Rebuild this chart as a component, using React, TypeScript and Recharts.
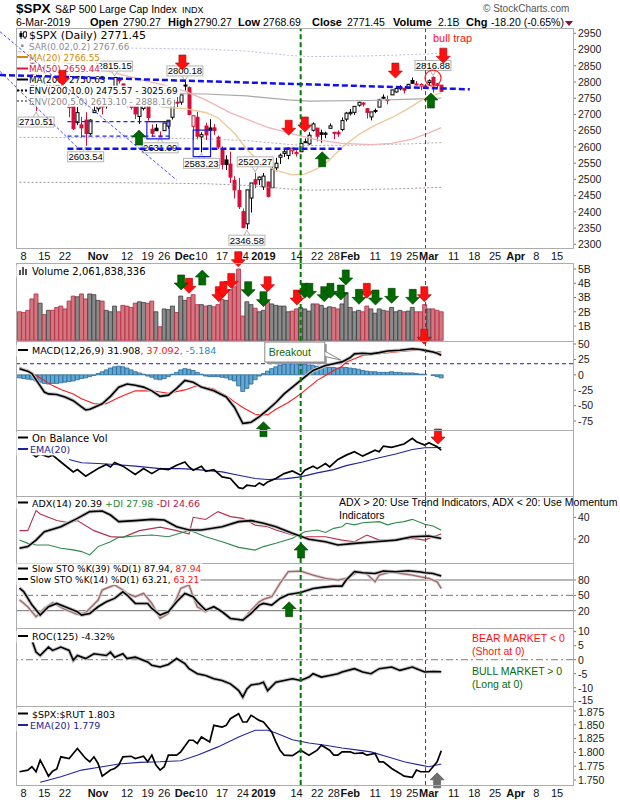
import React from "react";
import { ComposedChart, Bar, Line, XAxis, YAxis, ReferenceLine, ReferenceDot, ReferenceArea, Cell } from "recharts";

// ---------- categories ----------
const DATES = [
  "Oct 5","Oct 8","Oct 9","Oct 10","Oct 11","Oct 12","Oct 15","Oct 16","Oct 17","Oct 18","Oct 19","Oct 22","Oct 23","Oct 24","Oct 25","Oct 26","Oct 29","Oct 30","Oct 31",
  "Nov 1","Nov 2","Nov 5","Nov 6","Nov 7","Nov 8","Nov 9","Nov 12","Nov 13","Nov 14","Nov 15","Nov 16","Nov 19","Nov 20","Nov 21","Nov 23","Nov 26","Nov 27","Nov 28","Nov 29","Nov 30",
  "Dec 3","Dec 4","Dec 6","Dec 7","Dec 10","Dec 11","Dec 12","Dec 13","Dec 14","Dec 17","Dec 18","Dec 19","Dec 20","Dec 21","Dec 24","Dec 26","Dec 27","Dec 28","Dec 31",
  "Jan 2","Jan 3","Jan 4","Jan 7","Jan 8","Jan 9","Jan 10","Jan 11","Jan 14","Jan 15","Jan 16","Jan 17","Jan 18","Jan 22","Jan 23","Jan 24","Jan 25","Jan 28","Jan 29","Jan 30","Jan 31",
  "Feb 1","Feb 4","Feb 5","Feb 6","Feb 7","Feb 8","Feb 11","Feb 12","Feb 13","Feb 14","Feb 15","Feb 19","Feb 20","Feb 21","Feb 22","Feb 25","Feb 26","Feb 27","Feb 28",
  "Mar 1","Mar 4","Mar 5","Mar 6",
];
const PRIOR_CLOSE = 2901.6;

// ---------- price ----------
const OPEN = [
  2902.5,2877.5,2882.5,2873.9,2776.9,2770.5,2763.8,2767.1,2811.7,2802.0,2775.7,2773.9,2721.0,2737.9,2674.9,2667.9,2682.7,2640.7,2705.6,
  2717.6,2745.5,2726.4,2738.4,2774.1,2806.4,2794.1,2773.9,2730.1,2737.9,2693.5,2718.5,2730.7,2654.6,2657.7,2633.4,2650.0,2663.8,2691.5,2737.0,2737.8,
  2790.5,2782.4,2663.5,2691.3,2630.9,2664.4,2658.2,2658.7,2629.7,2590.8,2559.9,2547.1,2496.8,2465.4,2400.6,2363.1,2442.5,2498.8,2498.9,
  2477.0,2491.9,2474.3,2535.6,2568.1,2580.0,2573.5,2588.1,2580.3,2585.1,2614.8,2609.3,2651.3,2657.9,2643.5,2638.8,2657.4,2645.0,2644.9,2653.6,2685.5,
  2702.3,2706.5,2728.3,2735.1,2717.5,2692.4,2712.4,2722.6,2750.3,2743.5,2760.2,2769.3,2779.1,2780.7,2780.7,2804.4,2792.4,2787.5,2788.1,
  2798.2,2814.4,2794.4,2790.3,
];
const HIGH = [
  2909.6,2894.0,2894.8,2874.0,2795.1,2775.8,2776.0,2813.5,2816.9,2806.0,2797.8,2778.9,2753.6,2742.6,2722.7,2692.4,2706.9,2685.4,2736.7,
  2741.7,2756.6,2744.3,2756.8,2815.2,2814.8,2794.1,2776.0,2754.6,2746.8,2735.4,2746.8,2739.0,2669.4,2670.7,2647.6,2674.4,2682.5,2744.0,2753.8,2760.9,
  2800.2,2785.9,2696.1,2708.5,2645.1,2674.4,2685.4,2670.2,2635.0,2601.1,2574.0,2585.3,2509.6,2504.4,2410.3,2467.8,2489.1,2520.3,2509.2,
  2519.5,2493.1,2538.1,2566.2,2579.8,2595.3,2597.8,2596.3,2589.3,2613.1,2625.8,2645.1,2675.5,2657.9,2653.2,2647.2,2672.4,2645.0,2650.9,2690.4,2708.0,
  2716.7,2725.0,2739.0,2738.1,2719.3,2708.1,2718.1,2748.2,2761.9,2757.9,2775.7,2787.3,2789.9,2781.5,2794.2,2813.5,2803.1,2795.8,2793.7,
  2808.0,2816.9,2796.4,2790.3,
];
const LOW = [
  2869.3,2874.3,2874.3,2784.9,2710.5,2729.4,2749.0,2766.9,2781.8,2755.2,2760.3,2749.2,2691.4,2651.9,2667.8,2628.2,2603.5,2635.3,2705.6,
  2708.9,2700.4,2717.9,2737.1,2774.1,2795.0,2764.2,2722.0,2715.0,2685.8,2670.8,2712.2,2681.1,2631.5,2649.8,2631.1,2650.0,2655.9,2684.4,2722.9,2730.0,
  2773.4,2697.2,2621.5,2623.1,2583.2,2621.3,2650.3,2637.3,2593.5,2530.5,2528.7,2489.0,2441.2,2408.6,2351.1,2346.6,2397.9,2472.9,2482.8,
  2467.5,2444.0,2474.3,2524.6,2547.6,2568.9,2562.0,2577.4,2570.4,2585.1,2612.7,2606.4,2647.6,2617.3,2612.9,2627.0,2657.3,2624.1,2631.1,2648.3,2678.7,
  2696.9,2698.8,2724.0,2724.2,2687.3,2681.8,2703.9,2722.6,2748.6,2731.2,2760.2,2767.3,2774.1,2764.6,2779.1,2795.0,2789.5,2775.1,2782.5,
  2787.4,2767.7,2782.0,2768.7,
];
const CLOSE = [
  2885.6,2884.4,2880.3,2785.7,2728.4,2767.1,2750.8,2809.9,2809.2,2768.8,2767.8,2755.9,2740.7,2656.1,2705.6,2658.7,2641.3,2682.6,2711.7,
  2740.4,2723.1,2738.3,2755.5,2813.9,2806.8,2781.0,2726.2,2722.2,2701.6,2730.2,2736.3,2690.7,2641.9,2649.9,2632.6,2673.5,2682.2,2743.8,2737.8,2760.2,
  2790.4,2700.1,2695.9,2633.1,2637.7,2636.8,2651.1,2650.5,2600.0,2545.9,2546.2,2507.0,2467.4,2416.6,2351.1,2467.7,2488.8,2485.7,2506.9,
  2510.0,2447.9,2531.9,2549.7,2574.4,2585.0,2596.6,2596.3,2582.6,2610.3,2616.1,2636.0,2670.7,2632.9,2638.7,2642.3,2664.8,2643.9,2640.0,2681.1,2704.1,
  2706.5,2724.9,2737.7,2731.6,2706.1,2707.9,2709.8,2744.7,2753.0,2745.7,2775.6,2779.8,2784.7,2774.9,2792.7,2796.1,2793.9,2792.4,2784.5,
  2803.7,2792.8,2789.7,2771.5,
];
// volume in billions
const VOLUME = [
  2.0,1.95,2.1,2.9,3.25,2.6,1.8,2.1,2.1,2.3,2.4,2.2,2.75,3.1,3.05,3.25,2.9,3.25,3.2,
  2.8,2.75,2.1,2.0,2.4,2.0,2.45,2.4,2.3,2.6,2.7,2.65,2.6,2.75,2.0,0.95,2.2,2.15,2.4,1.95,3.1,
  2.8,3.0,3.2,2.5,2.5,2.4,2.45,2.35,2.5,2.85,2.8,3.55,3.75,5.0,1.7,2.7,2.5,2.25,2.0,
  2.1,2.7,2.55,2.45,2.4,2.4,2.0,2.05,2.2,2.3,2.2,2.05,2.55,2.55,2.45,2.25,2.35,2.3,2.2,2.55,3.35,
  2.3,2.0,2.1,2.0,2.4,2.2,1.9,2.2,2.1,2.05,2.3,2.0,2.1,2.0,2.05,2.3,2.0,2.0,2.5,
  2.2,2.2,2.1,2.0,
];
const MACD_HIST = [
  -5,-6,-7,-8,-10,-12,-14,-15,-14,-14,-13,-12,-11,-10,-8,-6,-5,-3,-1,
  2,5,8,11,13,14,13,11,8,5,3,1,-2,-4,-7,-8,-6,-3,1,4,8,
  10,9,7,4,1,-2,-3,-3,-3,-4,-5,-8,-10,-18,-27,-22,-15,-8,-2,
  2,6,10,13,16,18,19,20,19,18,17,16,15,14,13,12,12,12,11,12,12,
  11,10,9,7,6,5,5,4,4,4,5,4,4,3,3,3,2,1,1,
  0,-1,-3,-5,
];

// ---------- overlays read as [dayIndex, value] ----------
const MA20 = [[0,2905],[5,2885],[10,2845],[15,2790],[20,2755],[25,2742],[30,2735],[35,2722],[40,2718],[45,2706],[48,2690],[52,2642],[55,2592],[58,2556],[62,2528],[66,2514],[69,2516],[72,2533],[75,2560],[78,2598],[82,2638],[86,2667],[90,2690],[94,2718],[98,2750],[102,2766.5]];
const MA50 = [[0,2882],[10,2862],[20,2838],[30,2805],[35,2790],[40,2772],[45,2745],[51,2705],[56,2680],[60,2660],[67,2637],[72,2622],[78,2611],[85,2607],[90,2611],[95,2624],[99,2643],[102,2659.4]];
const MA200 = [[0,2768],[27,2766],[45,2763],[55,2757],[65,2745],[70,2741],[84,2743],[95,2747],[102,2750.6]];
const ENV5_UP = [[0,2906.4],[27,2904.3],[45,2901.2],[55,2894.9],[65,2882.3],[70,2878.1],[84,2880.2],[95,2884.4],[102,2888.2]];
const ENV5_LO = [[0,2629.6],[27,2627.7],[45,2624.9],[55,2619.2],[65,2607.8],[70,2604.0],[84,2605.9],[95,2609.7],[102,2613.1]];
const ENV10_LO = [[0,2491.2],[27,2489.4],[45,2486.7],[55,2481.3],[65,2470.5],[70,2466.9],[84,2468.7],[95,2472.3],[102,2475.6]];

const MACD_LINE = [[0,9.7],[2,6],[3,2],[4,-8],[5,-18],[6,-28],[7,-31],[9,-32],[11,-36],[13,-42],[15,-52],[16,-57],[17,-56],[18,-53],[20,-47],[22,-35],[24,-20],[26,-15],[28,-17],[30,-20],[32,-26],[34,-35],[36,-33],[38,-22],[40,-9],[42,-12],[44,-20],[47,-26],[50,-36],[52,-53],[53,-66],[54,-79],[55,-78],[56,-77],[58,-68],[60,-57],[62,-45],[64,-31],[66,-20],[68,-9],[70,2],[71,7],[74,15],[76,18],[78,21],[80,28],[81,34],[83,35],[85,34],[87,36],[89,38.6],[92,40],[95,42.4],[97,41],[98,39.7],[100,37],[101,35],[102,31.9]];
const MACD_SIGNAL = [[0,12.5],[2,6],[4,-1],[6,-9],[8,-17.5],[10,-24],[13,-31],[15,-39],[18,-47],[21,-47],[23,-40],[25,-34],[28,-26],[32,-26],[36,-30],[40,-24.5],[43,-17.5],[47,-23],[50,-34],[52,-44],[54,-53],[57,-64],[60,-65],[62,-56],[65,-45],[68,-31],[70,-20],[72,-9],[74,-1],[76,7],[78,14],[79,20.6],[81,26],[83,31.5],[87,34.2],[91,37],[95,39.7],[98,39.7],[100,38],[102,37]];

// OBV has no scale on the chart: values are relative (0 = panel floor, 100 = panel top)
const OBV = [[3,63.5],[4,59.4],[5,63.5],[7,59.4],[8,61.9],[10,51.5],[13,36.5],[14,40],[16,30],[19,41.5],[21,47.7],[22,44],[23,50.8],[25,45.2],[28,32.5],[30,41.5],[32,33.9],[34,41.5],[36,40],[38,46.6],[40,51.5],[41,44],[42,39],[44,45],[45,37.5],[47,40],[49,29],[51,26.5],[53,12.7],[54,11.2],[55,16.3],[57,14.8],[58,19.8],[59,16.3],[60,21.4],[62,26.5],[64,33.9],[66,38],[68,31.5],[69,39],[71,45.2],[72,41.5],[74,49.2],[75,44],[77,55.4],[79,61.9],[81,67],[83,60.4],[86,69.5],[87,67],[88,75.6],[90,73.6],[93,78.7],[95,87.3],[96,82.2],[98,77.1],[99,80.7],[101,74.6],[102,69.5]];
const OBV_EMA = [[12,55.4],[15,50.3],[19,49.2],[23,47.7],[28,45.2],[34,41.5],[39,41.5],[43,40],[49,36.5],[53,31.5],[57,26.5],[60,25],[64,26],[68,29],[72,35],[76,40],[79,46],[83,51.5],[87,58],[91,63.5],[95,70.5],[98,73],[102,73.5]];

const ADX = [[0,11.4],[2,13],[4,19],[6,26.7],[10,31.3],[14,39],[17,45.2],[20,45.8],[22,42.1],[24,36],[28,36.9],[32,38.1],[35,37.5],[38,31.3],[41,28.3],[44,28.3],[49,31.3],[53,36],[56,36.9],[59,34.5],[62,31.3],[66,25.2],[70,19.7],[74,17.5],[77,14.5],[81,16],[86,17.5],[91,19],[95,22.1],[99,22.8],[102,20.4]];
const PLUS_DI = [[0,19],[2,16],[4,14.5],[7,14.5],[10,11.5],[13,10],[15,8.4],[17,5.3],[19,13],[22,17.5],[24,21.5],[28,22.8],[32,23.7],[36,22.1],[40,26.7],[41,28.3],[45,22.1],[49,17.5],[53,12.3],[57,9.8],[59,13],[62,16],[66,20.6],[69,26.7],[72,28.3],[74,26],[76,29.8],[78,31.3],[79,34.5],[81,33],[83,35],[87,36],[89,33],[91,35],[93,36],[95,38.1],[98,33.5],[100,31.9],[102,28]];
const MINUS_DI = [[0,27.7],[2,27.7],[4,46.1],[5,43],[9,37],[12,35],[14,37],[18,27.7],[22,22.2],[25,21.5],[29,27.7],[34,30.9],[38,27.7],[41,24.6],[42,40],[45,38],[48,45.2],[51,40.6],[54,39],[57,32.8],[60,31.3],[62,28.3],[66,23.7],[69,22.1],[74,22.1],[78,19],[81,17.5],[84,23.7],[87,19],[91,19],[95,20.6],[98,19],[100,22.1],[102,24.7]];

const STO39 = [[0,64],[1,57.5],[3,31.4],[5,11.4],[7,27.7],[9,34.2],[11,27.7],[14,17.9],[15,11.4],[17,14.6],[19,27.7],[21,37.5],[23,44],[25,57],[26,50.6],[28,34.2],[31,34.2],[32,24.4],[34,11.4],[36,17.9],[38,37.5],[40,53.8],[42,47.3],[43,37.5],[45,21.1],[47,27.7],[49,17.9],[51,4.9],[53,2.9],[54,1.6],[56,14.6],[58,30.9],[59,34.2],[61,30.9],[63,44],[65,51.7],[68,55.6],[71,63.4],[73,65.5],[76,68.1],[78,68.1],[79,79.9],[81,96.2],[83,94.1],[86,92.8],[88,97.4],[91,96.2],[94,98.1],[97,95.5],[98,94.1],[100,92.8],[102,87.9]];
const STO14 = [[0,41.2],[2,27.7],[4,8.1],[6,24.4],[8,35.5],[11,22.5],[14,12.7],[16,16],[19,40.8],[20,60.4],[22,66.9],[23,70.2],[25,60.4],[26,53.8],[28,47.3],[30,53.8],[32,34.2],[34,4.9],[36,14.6],[38,44],[39,63.6],[41,70.2],[42,47.3],[43,27.7],[45,17.9],[47,27.7],[49,17.9],[51,4.9],[53,1.6],[54,1.6],[56,21.1],[58,37.5],[59,42.1],[61,47.3],[63,73.4],[65,96.2],[68,97.5],[71,89.5],[74,83],[77,79.9],[79,83],[82,96.2],[84,91.5],[86,76.5],[87,89.5],[90,96.2],[92,92.8],[95,89.5],[97,86.3],[99,83],[101,76.5],[102,63.2]];

const ROC = [[3,6.9],[4,2.7],[5,1.5],[7,4.5],[8,3.3],[10,4.5],[12,3.3],[13,-0.2],[14,1.5],[16,0.4],[18,2.1],[21,1.5],[22,2.7],[23,0.9],[25,2.1],[26,0.4],[28,0.9],[31,-0.8],[32,-2],[34,-2.6],[36,-1.7],[38,0.4],[40,-1.4],[41,-3.2],[43,-5],[45,-5.6],[47,-6.8],[49,-7.4],[51,-8.6],[52,-9.8],[53,-11],[54,-13.3],[55,-10.4],[56,-9],[58,-8.6],[59,-8],[60,-11],[62,-8],[64,-7.4],[66,-6.8],[68,-7.4],[70,-6.2],[71,-5],[73,-6.2],[75,-5.6],[77,-5],[78,-4.4],[81,-3.2],[83,-4.4],[85,-5],[87,-3.2],[90,-2.6],[92,-3.8],[95,-2.6],[96,-3.2],[98,-4.4],[100,-4.2],[102,-4.3]];

const RATIO = [[0,1.765],[2,1.768],[3,1.774],[4,1.765],[5,1.786],[6,1.772],[7,1.757],[8,1.766],[9,1.770],[10,1.792],[12,1.789],[13,1.798],[14,1.807],[15,1.798],[16,1.789],[17,1.783],[18,1.792],[19,1.780],[20,1.757],[22,1.768],[23,1.771],[24,1.777],[25,1.792],[27,1.793],[28,1.789],[30,1.793],[31,1.783],[32,1.795],[33,1.777],[34,1.768],[35,1.774],[36,1.795],[38,1.795],[39,1.801],[41,1.822],[42,1.822],[43,1.816],[44,1.828],[46,1.819],[47,1.849],[49,1.846],[50,1.849],[51,1.861],[53,1.870],[54,1.855],[55,1.855],[56,1.867],[58,1.858],[59,1.855],[61,1.837],[62,1.819],[63,1.804],[64,1.795],[66,1.794],[68,1.804],[70,1.795],[72,1.804],[73,1.813],[75,1.804],[76,1.795],[77,1.795],[78,1.801],[80,1.801],[81,1.798],[83,1.799],[84,1.795],[86,1.798],[87,1.783],[88,1.783],[90,1.771],[92,1.762],[93,1.757],[95,1.755],[96,1.768],[97,1.765],[99,1.765],[100,1.774],[101,1.783],[102,1.803]];
const RATIO_EMA = [[5,1.746],[10,1.756],[15,1.768],[20,1.774],[24,1.779],[29,1.782],[34,1.783],[39,1.785],[43,1.795],[48,1.810],[53,1.828],[57,1.840],[60,1.840],[62,1.835],[66,1.823],[70,1.817],[74,1.813],[78,1.808],[81,1.805],[85,1.801],[89,1.792],[93,1.783],[97,1.777],[99,1.774],[102,1.779]];

// ---------- ticks ----------
const TICK_INDEX = [1,6,11,19,26,31,35,40,44,49,54,59,67,72,76,80,86,91,95,99,105,110,115,120,125,130];
const TICK_LABELS = ["8","15","22","Nov","12","19","26","Dec","10","17","24","2019","14","22","28","Feb","11","19","25","Mar","11","18","25","Apr","8","15"];
const BOLD_LABELS = ["Nov","Dec","2019","Feb","Mar","Apr"];
const PRICE_TICKS = [2300,2350,2400,2450,2500,2550,2600,2650,2700,2750,2800,2850,2900,2950];
const VOL_TICKS = [1,2,3,4,5];
const MACD_TICKS = [-75,-50,-25,0,25,50];
const ADX_TICKS = [20,40];
const STO_TICKS = [20,50,80];
const ROC_TICKS = [-15,-10,-5,0,5,10];
const RATIO_TICKS = [1.75,1.775,1.8,1.825,1.85,1.875];

// ---------- annotations (day index, value) ----------
const GREEN_X = 68;
const RED_X = 98.2;
const MAIN_RED_DOWN = [[10.4,2790],[39.4,2837],[65.1,2636],[69.0,2646],[90.9,2812],[102.5,2858]];
const MAIN_GREEN_UP = [[28.9,2652],[73.2,2585],[99.5,2766]];
const VOL_RED_DOWN = [[41,3.29],[48.2,2.71],[49.3,3.06],[51.2,3.64],[52.9,5.16],[60,3.41],[67.1,2.47],[84,2.94],[97.9,2.71],[97.9,-0.28]];
const VOL_GREEN_DOWN = [[39.1,3.53],[55.3,3.06],[59,2.36],[69,2.94],[70.1,2.94],[73.7,2.71],[75.2,2.94],[77.7,2.82],[78.9,3.88],[82.1,2.52],[86.1,2.47],[90,2.59],[95.1,2.52]];
const VOL_GREEN_UP = [[44.2,4.93]];
const PRICE_LABELS = [
  { i: 4, v: 2710.51, below: true },
  { i: 16, v: 2603.54, below: true },
  { i: 34, v: 2631.09, below: true },
  { i: 44, v: 2583.23, below: true },
  { i: 55, v: 2346.58, below: true },
  { i: 23, v: 2815.15, below: false },
  { i: 40, v: 2800.18, below: false },
  { i: 57, v: 2520.27, below: false },
  { i: 100, v: 2816.88, below: false },
];

// ---------- geometry ----------
const XDOM = [-0.85, 133.86];
const W = 620;
const MT = 16;
const MB = 10;
const A = "Liberation Sans, Arial, sans-serif";
const F = "DejaVu Sans, Verdana, sans-serif";
const RED = "#ff1010";
const GREEN = "#006a00";
const MAIN_DOM = [2288.6, 2966.3];

const pts = (arr) => arr.map(([i, v]) => ({ i, v }));

// rough DejaVu Sans advance widths, used to size legend backgrounds
const textW = (s, size) => {
  let w = 0;
  for (const ch of s) {
    if (/[0-9$]/.test(ch)) w += 0.636;
    else if (/[.,: ]/.test(ch)) w += 0.318;
    else if (/[()]/.test(ch)) w += 0.39;
    else if (ch === "-") w += 0.361;
    else if (ch === "%") w += 0.95;
    else if (ch === "+") w += 0.838;
    else if (/[MDNO]/.test(ch)) w += 0.78;
    else if (/[A-Z]/.test(ch)) w += 0.68;
    else if (/[il]/.test(ch)) w += 0.278;
    else w += 0.61;
  }
  return w * size;
};

const legendRow = (key, x, y, size, parts, family = F) => {
  const full = parts.map((p) => p[0]).join("");
  return (
    <g key={key}>
      <rect x={16.5} y={y - size * 0.95} width={x - 16 + textW(full, size) + 1} height={size * 1.2} fill="#ffffff" />
      <text x={x} y={y} fontFamily={family} fontSize={size}>
        {parts.map((p, k) => (
          <tspan key={k} fill={p[1]}>{p[0]}</tspan>
        ))}
      </text>
    </g>
  );
};

const Candle = (p) => {
  const { x, y, width, height, payload } = p;
  if (!payload || x == null || y == null || !isFinite(height)) return null;
  const { o, h, l, c, pc } = payload;
  const top = height >= 0 ? y : y + height;
  const span = Math.abs(height);
  const py = (v) => (h === l ? top : top + ((h - v) / (h - l)) * span);
  const cx = Math.round(x + width / 2) + 0.5;
  const color = c >= pc ? "#000000" : "#d3103a";
  const yo = py(o);
  const yc = py(c);
  const bt = Math.min(yo, yc);
  const bh = Math.max(1, Math.abs(yo - yc));
  return (
    <g>
      <line x1={cx} x2={cx} y1={top} y2={top + span} stroke={color} strokeWidth={1} />
      <rect x={cx - 1.5} y={bt} width={3} height={bh} fill={c > o ? "#ffffff" : color} stroke={color} strokeWidth={1} />
    </g>
  );
};

const arrowShape = (dir, fill, edge) => (p) => {
  const { cx, cy } = p;
  if (cx == null || cy == null) return null;
  const s = dir === "down" ? -1 : 1;
  const P = [[0, 0], [-7, 7], [-3.5, 7], [-3.5, 15], [3.5, 15], [3.5, 7], [7, 7]];
  const str = P.map(([dx, dy]) => `${cx + dx},${cy + s * dy}`).join(" ");
  return <polygon points={str} fill={fill} stroke={edge} strokeWidth={0.6} />;
};

const labelShape = (text, below) => (p) => {
  const { cx, cy } = p;
  if (cx == null || cy == null) return null;
  const w = 36, h = 10;
  const top = below ? cy + 6 : cy - 6 - h;
  const edge = below ? top : top + h;
  const tip = below ? cy + 1 : cy - 1;
  return (
    <g>
      <path d={`M${cx - 3},${edge} L${cx},${tip} L${cx + 3},${edge}`} fill="#fff" stroke="#b4b4b4" strokeWidth={1} />
      <rect x={cx - w / 2} y={top} width={w} height={h} fill="#ffffff" stroke="#b4b4b4" strokeWidth={1} />
      <text x={cx} y={top + h - 1.6} textAnchor="middle" fontSize={9.5} fontFamily={A} fill="#000">{text}</text>
    </g>
  );
};

const breakoutShape = (p) => {
  const { cx, cy } = p;
  if (cx == null || cy == null) return null;
  const bx = cx - 76, by = cy - 18;
  return (
    <g>
      <rect x={bx + 2} y={by + 2} width={60} height={20} fill="#9a9a9a" />
      <path d={`M${bx + 58},${by + 8} L${cx},${cy} L${bx + 58},${by + 14}`} fill="#fff" stroke="#888" strokeWidth={1} />
      <rect x={bx} y={by} width={60} height={20} fill="#ffffff" stroke="#888" strokeWidth={1} />
      <text x={bx + 4} y={by + 14} fontSize={10.5} fontFamily={A} fill="#0a6a0a">Breakout</text>
    </g>
  );
};

const DateTick = (p) => {
  const { x, y, payload } = p;
  const k = TICK_INDEX.indexOf(payload.value);
  const lab = k >= 0 ? TICK_LABELS[k] : "";
  const bold = BOLD_LABELS.includes(lab);
  return (
    <text x={x} y={y + 11.5} textAnchor="middle" fontSize={11} fontFamily={A} fontWeight={bold ? 700 : 400} fill="#111">{lab}</text>
  );
};

const ValTick = (fmt, nudge) => (p) => {
  const { x, y, payload } = p;
  const v = payload.value;
  const dy = nudge && nudge[0] === v ? nudge[1] : 0;
  return (
    <text x={x} y={y + 3.8 + dy} textAnchor="start" fontSize={10.5} fontFamily={A} fill="#1a1a1a">{fmt ? fmt(v) : String(v)}</text>
  );
};

const yAxis = (domain, ticks, fmt, show = true, nudge = null) => (
  <YAxis
    orientation="right"
    type="number"
    domain={domain}
    ticks={ticks}
    allowDataOverflow
    interval={0}
    width={47}
    axisLine={false}
    tickLine={show && ticks.length ? { stroke: "#777" } : false}
    tickSize={3}
    tickMargin={2}
    tick={show && ticks.length ? ValTick(fmt, nudge) : false}
  />
);

const xAxis = (show, labels = true) => (
  <XAxis
    type="number"
    dataKey="i"
    domain={XDOM}
    allowDataOverflow
    ticks={TICK_INDEX}
    interval={0}
    hide={!show}
    height={show ? 15 : 0}
    axisLine={false}
    tickLine={false}
    tickSize={0}
    tickMargin={0}
    tick={show && labels ? (p) => <DateTick {...p} /> : false}
  />
);

const vlines = (ext) => [
  ext ? (
    <ReferenceLine key="vg" segment={[{ x: GREEN_X, y: ext[0] }, { x: GREEN_X, y: ext[1] }]} stroke="#007a00" strokeWidth={2} strokeDasharray="5 3" ifOverflow="visible" />
  ) : (
    <ReferenceLine key="vg" x={GREEN_X} stroke="#007a00" strokeWidth={2} strokeDasharray="5 3" />
  ),
  ext ? (
    <ReferenceLine key="vr" segment={[{ x: RED_X, y: ext[0] }, { x: RED_X, y: ext[1] }]} stroke="#e00000" strokeWidth={1} strokeDasharray="4 3" ifOverflow="visible" />
  ) : (
    <ReferenceLine key="vr" x={RED_X} stroke="#e00000" strokeWidth={1} strokeDasharray="4 3" />
  ),
];

const line = (key, data, color, width, extra = {}) => (
  <Line key={key} data={pts(data)} dataKey="v" type="linear" stroke={color} strokeWidth={width} dot={false} activeDot={false} isAnimationActive={false} {...extra} />
);

const PANELS = {
  main: { top: 28, h: 220 },
  vol: { top: 263, h: 78 },
  macd: { top: 341, h: 89 },
  obv: { top: 430, h: 66 },
  adx: { top: 496, h: 67 },
  sto: { top: 563, h: 65 },
  roc: { top: 628, h: 78 },
  ratio: { top: 706, h: 79 },
};

const Wrap = ({ panel, bottom, axisH = 0, children }) => (
  <div style={{ position: "absolute", left: 0, top: panel.top - MT }}>{children(MT + panel.h + bottom + axisH)}</div>
);

export default function App() {
  const rows = DATES.map((d, i) => ({
    i,
    d,
    o: OPEN[i],
    h: HIGH[i],
    l: LOW[i],
    c: CLOSE[i],
    pc: i === 0 ? PRIOR_CLOSE : CLOSE[i - 1],
    hl: [LOW[i], HIGH[i]],
    vol: VOLUME[i],
    hist: MACD_HIST[i],
  }));

  return (
    <div style={{ position: "absolute", left: 0, top: 0, width: 620, height: 800, background: "#ffffff", overflow: "hidden" }}>
      {/* MAIN PRICE: data layer */}
      <Wrap panel={PANELS.main} bottom={0} axisH={15}>
        {(h) => (
          <ComposedChart width={W} height={h} data={rows} margin={{ top: MT, right: 0, bottom: 0, left: 16 }}>
            {xAxis(true)}
            {yAxis(MAIN_DOM, PRICE_TICKS)}
            {line("env10", ENV10_LO, "#9a9a9a", 1, { strokeDasharray: "2 2" })}
            {line("env5l", ENV5_LO, "#b0b0b0", 1, { strokeDasharray: "2 2" })}
            {line("env5u", ENV5_UP, "#bcbcdc", 1, { strokeDasharray: "2 2" })}
            {line("ma200", MA200, "#a8a8a8", 1.2)}
            {line("ma50", MA50, "#f2b4b4", 1.3)}
            {line("ma20", MA20, "#ecc994", 1.3)}
            <Bar dataKey="hl" barSize={4} isAnimationActive={false} shape={(p) => <Candle {...p} />} />
            {PRICE_LABELS.map((L, k) => (
              <ReferenceDot key={"pl" + k} x={L.i} y={L.v} r={0} ifOverflow="visible" shape={labelShape(L.v.toFixed(2), L.below)} />
            ))}
          </ComposedChart>
        )}
      </Wrap>

      {/* main legend (hides the price data beneath each line) */}
      <svg width={620} height={120} style={{ position: "absolute", left: 0, top: 0, pointerEvents: "none" }}>
        {legendRow("l0", 29, 39, 11, [["$SPX (Daily) 2771.45", "#000"]])}
        {legendRow("l1", 29, 49.5, 8.8, [["SAR(0.02,0.2) 2767.66", "#8c8c9c"]])}
        {legendRow("l2", 29, 60.5, 8.8, [["MA(20) 2766.55", "#d48a0c"]])}
        {legendRow("l3", 29, 72, 8.8, [["MA(50) 2659.44", "#e0143c"]])}
        {legendRow("l4", 29, 83, 8.8, [["MA(200) 2750.63", "#000"]])}
        {legendRow("l5", 29, 94, 8.8, [["ENV(200,10.0) 2475.57 - 3025.69", "#000"]])}
        {legendRow("l6", 29, 104.5, 8.8, [["ENV(200,5.0) 2613.10 - 2888.16", "#8a8a8a"]])}
        <line x1={21} x2={21} y1={31} y2={39} stroke="#000" />
        <rect x={19.5} y={33} width={3} height={4} fill="#000" />
        <line x1={25} x2={25} y1={31} y2={39} stroke="#000" />
        <rect x={23.5} y={32} width={3} height={5} fill="#fff" stroke="#000" strokeWidth={0.8} />
        <rect x={21} y={44.5} width={2.5} height={2.5} fill="#8c8c9c" />
        <line x1={17} x2={28} y1={57} y2={57} stroke="#d48a0c" strokeWidth={2} />
        <line x1={17} x2={28} y1={68.5} y2={68.5} stroke="#e0143c" strokeWidth={2} />
        <line x1={17} x2={28} y1={79.5} y2={79.5} stroke="#000" strokeWidth={2} />
        <line x1={17} x2={28} y1={90.5} y2={90.5} stroke="#000" strokeWidth={2} strokeDasharray="2 2" />
        <line x1={17} x2={28} y1={101} y2={101} stroke="#8a8a8a" strokeWidth={2} strokeDasharray="2 2" />
      </svg>

      {/* MAIN PRICE: annotation layer */}
      <Wrap panel={PANELS.main} bottom={0} axisH={15}>
        {(h) => (
          <ComposedChart width={W} height={h} data={rows} margin={{ top: MT, right: 0, bottom: 0, left: 16 }}>
            {xAxis(true, false)}
            {yAxis(MAIN_DOM, PRICE_TICKS, null, false)}
            <ReferenceLine segment={[{ x: 11.6, y: 2678 }, { x: 36.6, y: 2678 }]} stroke="#2222e0" strokeWidth={1.2} strokeDasharray="4 3" ifOverflow="visible" />
            <ReferenceLine segment={[{ x: 11.6, y: 2633 }, { x: 36.6, y: 2633 }]} stroke="#2222e0" strokeWidth={1.2} strokeDasharray="4 3" ifOverflow="visible" />
            <ReferenceLine segment={[{ x: -4.72, y: 2954.9 }, { x: 38, y: 2498 }]} stroke="#4848ff" strokeWidth={1} strokeDasharray="3 2" ifOverflow="visible" />
            <ReferenceLine segment={[{ x: -4.72, y: 2832.6 }, { x: 14.6, y: 2590.5 }]} stroke="#4848ff" strokeWidth={1} strokeDasharray="3 2" ifOverflow="visible" />
            <ReferenceArea x1={30.8} x2={36.2} y1={2625} y2={2678} fill="none" stroke="#1a1ae6" strokeWidth={1.2} ifOverflow="visible" />
            <ReferenceArea x1={42} x2={46.2} y1={2570} y2={2652} fill="none" stroke="#1a1ae6" strokeWidth={1.2} ifOverflow="visible" />
            <ReferenceLine segment={[{ x: 11.6, y: 2594 }, { x: 77.9, y: 2594 }]} stroke="#1010f0" strokeWidth={2.5} strokeDasharray="6 3" ifOverflow="visible" />
            <ReferenceLine segment={[{ x: -4.72, y: 2821.5 }, { x: 108.9, y: 2777.5 }]} stroke="#1010f0" strokeWidth={2.5} strokeDasharray="6 3" ifOverflow="visible" />
            {vlines([2242, 2966.3])}
            <ReferenceDot x={100} y={2812} r={8} fill="none" stroke="#ff2020" strokeWidth={1.2} ifOverflow="visible" />
            {MAIN_RED_DOWN.map(([i, v], k) => (
              <ReferenceDot key={"mr" + k} x={i} y={v} r={0} ifOverflow="visible" shape={arrowShape("down", RED, "#b00000")} />
            ))}
            {MAIN_GREEN_UP.map(([i, v], k) => (
              <ReferenceDot key={"mg" + k} x={i} y={v} r={0} ifOverflow="visible" shape={arrowShape("up", GREEN, "#004000")} />
            ))}
          </ComposedChart>
        )}
      </Wrap>

      {/* VOLUME */}
      <Wrap panel={PANELS.vol} bottom={MB}>
        {(h) => (
          <ComposedChart width={W} height={h} data={rows} margin={{ top: MT, right: 0, bottom: MB, left: 16 }}>
            {xAxis(false)}
            {yAxis([-0.05, 5.42], VOL_TICKS, (v) => `${v}B`)}
            <Bar dataKey="vol" barSize={4} isAnimationActive={false}>
              {rows.map((r, k) => (
                <Cell key={k} fill={r.c < r.pc ? "#d27680" : "#8a8a8a"} stroke={r.c < r.pc ? "#b42a40" : "#3c3c3c"} strokeWidth={0.8} />
              ))}
            </Bar>
            {vlines()}
            {VOL_RED_DOWN.map(([i, v], k) => (
              <ReferenceDot key={"vr" + k} x={i} y={v} r={0} ifOverflow="visible" shape={arrowShape("down", RED, "#b00000")} />
            ))}
            {VOL_GREEN_DOWN.map(([i, v], k) => (
              <ReferenceDot key={"vg" + k} x={i} y={v} r={0} ifOverflow="visible" shape={arrowShape("down", GREEN, "#004000")} />
            ))}
            {VOL_GREEN_UP.map(([i, v], k) => (
              <ReferenceDot key={"vu" + k} x={i} y={v} r={0} ifOverflow="visible" shape={arrowShape("up", GREEN, "#004000")} />
            ))}
          </ComposedChart>
        )}
      </Wrap>

      {/* MACD */}
      <Wrap panel={PANELS.macd} bottom={MB}>
        {(h) => (
          <ComposedChart width={W} height={h} data={rows} margin={{ top: MT, right: 0, bottom: MB, left: 16 }}>
            {xAxis(false)}
            {yAxis([-89.6, 54.9], MACD_TICKS)}
            <Bar dataKey="hist" barSize={4} fill="#62a8d4" stroke="#2a6a96" strokeWidth={0.8} isAnimationActive={false} />
            <ReferenceLine y={18} stroke="#1a1ac8" strokeWidth={1} strokeDasharray="4 3" />
            {line("sig", MACD_SIGNAL, "#ff1a1a", 1.1)}
            {line("macdh", MACD_LINE, "#c4c4c4", 3.6)}
            {line("macd", MACD_LINE, "#000000", 1.6)}
            {vlines()}
            <ReferenceDot x={77.7} y={24} r={0} ifOverflow="visible" shape={breakoutShape} />
            <ReferenceDot x={59} y={-76.1} r={0} ifOverflow="visible" shape={arrowShape("up", GREEN, "#004000")} />
          </ComposedChart>
        )}
      </Wrap>

      {/* OBV */}
      <Wrap panel={PANELS.obv} bottom={MB}>
        {(h) => (
          <ComposedChart width={W} height={h} data={rows} margin={{ top: MT, right: 0, bottom: MB, left: 16 }}>
            {xAxis(false)}
            {yAxis([0, 100], [])}
            {line("obvema", OBV_EMA, "#22229a", 1.1)}
            {line("obv", OBV, "#000000", 1.7)}
            {vlines()}
            <ReferenceDot x={101.2} y={78.8} r={0} ifOverflow="visible" shape={arrowShape("down", RED, "#b00000")} />
          </ComposedChart>
        )}
      </Wrap>

      {/* ADX */}
      <Wrap panel={PANELS.adx} bottom={MB}>
        {(h) => (
          <ComposedChart width={W} height={h} data={rows} margin={{ top: MT, right: 0, bottom: MB, left: 16 }}>
            {xAxis(false)}
            {yAxis([-2.1, 59.6], ADX_TICKS)}
            {line("mdi", MINUS_DI, "#b4304e", 1.1)}
            {line("pdi", PLUS_DI, "#2e8a4a", 1.1)}
            {line("adxh", ADX, "#c4c4c4", 3.6)}
            {line("adx", ADX, "#000000", 1.6)}
            {vlines()}
            <ReferenceDot x={68.1} y={16.3} r={0} ifOverflow="visible" shape={arrowShape("up", GREEN, "#004000")} />
          </ComposedChart>
        )}
      </Wrap>

      {/* SLOW STO */}
      <Wrap panel={PANELS.sto} bottom={MB}>
        {(h) => (
          <ComposedChart width={W} height={h} data={rows} margin={{ top: MT, right: 0, bottom: MB, left: 16 }}>
            {xAxis(false)}
            {yAxis([-13.8, 113.2], STO_TICKS)}
            <ReferenceLine y={80} stroke="#6e6e6e" strokeWidth={1} />
            <ReferenceLine y={50} stroke="#7a7a7a" strokeWidth={1} strokeDasharray="7 3 2 3" />
            <ReferenceLine y={20} stroke="#6e6e6e" strokeWidth={1} />
            {line("s14h", STO14, "#dcd0d0", 3)}
            {line("s14", STO14, "#a06a6a", 1.3)}
            {line("s39h", STO39, "#c4c4c4", 3.6)}
            {line("s39", STO39, "#000000", 1.6)}
            {vlines()}
            <ReferenceDot x={65.2} y={37.6} r={0} ifOverflow="visible" shape={arrowShape("up", GREEN, "#004000")} />
          </ComposedChart>
        )}
      </Wrap>

      {/* ROC */}
      <Wrap panel={PANELS.roc} bottom={MB}>
        {(h) => (
          <ComposedChart width={W} height={h} data={rows} margin={{ top: MT, right: 0, bottom: MB, left: 16 }}>
            {xAxis(false)}
            {yAxis([-16.5, 11.3], ROC_TICKS, null, true, [-15, -1.5])}
            <ReferenceLine y={0} stroke="#7a7a7a" strokeWidth={1} strokeDasharray="7 3 2 3" />
            {line("roch", ROC, "#c4c4c4", 3.6)}
            {line("roc", ROC, "#000000", 1.6)}
            {vlines()}
          </ComposedChart>
        )}
      </Wrap>

      {/* SPX:RUT */}
      <Wrap panel={PANELS.ratio} bottom={0} axisH={15}>
        {(h) => (
          <ComposedChart width={W} height={h} data={rows} margin={{ top: MT, right: 0, bottom: 0, left: 16 }}>
            {xAxis(true)}
            {yAxis([1.741, 1.884], RATIO_TICKS, (v) => v.toFixed(3), true, [1.875, 1.5])}
            {line("rema", RATIO_EMA, "#2424a4", 1.1)}
            {line("ratio", RATIO, "#000000", 1.7)}
            {vlines()}
            <ReferenceDot x={101} y={1.763} r={0} ifOverflow="visible" shape={arrowShape("up", "#6e6e6e", "#505050")} />
          </ComposedChart>
        )}
      </Wrap>

      {/* panel frames */}
      {Object.keys(PANELS).map((k) => (
        <div key={k} style={{ position: "absolute", left: 16, top: PANELS[k].top, width: 558, height: PANELS[k].h + 1, border: "1px solid #acacac", boxSizing: "border-box", pointerEvents: "none" }} />
      ))}

      {/* text overlay */}
      <svg width={620} height={800} style={{ position: "absolute", left: 0, top: 0, pointerEvents: "none" }}>
        <text x={16} y={13} fontFamily={A} fontSize={13.5} fontWeight={700} fill="#000">$SPX</text>
        <text x={55} y={12.5} fontFamily={A} fontSize={10.5} fill="#000">S&amp;P 500 Large Cap Index</text>
        <text x={182} y={12.5} fontFamily={A} fontSize={9} fill="#000">INDX</text>
        <text x={483} y={12} fontFamily={A} fontSize={10} fill="#555">© StockCharts.com</text>
        <text y={26} fontFamily={A} fontSize={10.5} fill="#000">
          <tspan x={16}>6-Mar-2019</tspan>
          <tspan x={90} fontWeight={700} fontSize={11}>Open</tspan>
          <tspan x={123}>2790.27</tspan>
          <tspan x={168} fontWeight={700} fontSize={11}>High</tspan>
          <tspan x={194}>2790.27</tspan>
          <tspan x={238} fontWeight={700} fontSize={11}>Low</tspan>
          <tspan x={263}>2768.69</tspan>
          <tspan x={312} fontWeight={700} fontSize={11}>Close</tspan>
          <tspan x={347}>2771.45</tspan>
          <tspan x={393} fontWeight={700} fontSize={11}>Volume</tspan>
          <tspan x={438}>2.1B</tspan>
          <tspan x={466} fontWeight={700} fontSize={11}>Chg</tspan>
          <tspan x={491}>-18.20 (-0.65%)</tspan>
        </text>
        <path d="M565,21 L573,21 L569,26 Z" fill="#8a1030" />
        <text x={433} y={42} fontFamily={A} fontSize={11} fill="#ff1010">bull trap</text>

        {/* volume legend */}
        {legendRow("vl", 32, 275, 10, [["Volume 2,061,838,336", "#000"]])}
        <rect x={19} y={270} width={2} height={5} fill="#555" />
        <rect x={22} y={267} width={2} height={8} fill="#555" />
        <rect x={25} y={269} width={2} height={6} fill="#555" />

        {/* MACD legend */}
        {legendRow("ml", 32, 354, 9.5, [["MACD(12,26,9) 31.908", "#000"], [", 37.092", "#ff1010"], [", -5.184", "#2a8ac8"]])}
        <line x1={18} x2={28} y1={350} y2={350} stroke="#000" strokeWidth={2} />

        {/* OBV legend */}
        {legendRow("ol", 32, 441.5, 10, [["On Balance Vol", "#000"]])}
        <line x1={18} x2={28} y1={437.5} y2={437.5} stroke="#000" strokeWidth={2} />
        {legendRow("oe", 30, 453, 9.5, [["EMA(20)", "#22229a"]])}
        <line x1={18} x2={28} y1={449} y2={449} stroke="#22229a" strokeWidth={2} />

        {/* ADX legend */}
        {legendRow("al", 32, 506.5, 9.5, [["ADX(14) 20.39 ", "#000"], ["+DI 27.98 ", "#1e8a3a"], ["-DI 24.66", "#b02050"]])}
        <line x1={18} x2={28} y1={502.5} y2={502.5} stroke="#000" strokeWidth={2} />
        <text x={339} y={506} fontFamily={A} fontSize={10.5} fill="#000">ADX &gt; 20: Use Trend Indicators, ADX &lt; 20: Use Momentum</text>
        <text x={339} y={519} fontFamily={A} fontSize={10.5} fill="#000">Indicators</text>

        {/* STO legend */}
        {legendRow("s1", 32, 572, 9, [["Slow STO %K(39) %D(1) 87.94, ", "#000"], ["87.94", "#ff1010"]])}
        <line x1={18} x2={28} y1={568.5} y2={568.5} stroke="#000" strokeWidth={2} />
        {legendRow("s2", 30, 582.5, 9, [["Slow STO %K(14) %D(1) 63.21, ", "#000"], ["63.21", "#ff1010"]])}
        <line x1={18} x2={28} y1={579} y2={579} stroke="#000" strokeWidth={2} />

        {/* ROC legend & notes */}
        {legendRow("rl", 32, 640, 9.5, [["ROC(125) -4.32%", "#000"]])}
        <line x1={18} x2={28} y1={636} y2={636} stroke="#000" strokeWidth={2} />
        <text x={472} y={642} fontFamily={A} fontSize={10.5} fill="#ff1010">BEAR MARKET &lt; 0</text>
        <text x={472} y={655} fontFamily={A} fontSize={10.5} fill="#ff1010">(Short at 0)</text>
        <text x={472} y={675} fontFamily={A} fontSize={10.5} fill="#0a6a0a">BULL MARKET &gt; 0</text>
        <text x={472} y={688} fontFamily={A} fontSize={10.5} fill="#0a6a0a">(Long at 0)</text>

        {/* ratio legend */}
        {legendRow("xl", 32, 717.5, 9.5, [["$SPX:$RUT 1.803", "#000"]])}
        <line x1={18} x2={28} y1={713.5} y2={713.5} stroke="#000" strokeWidth={2} />
        {legendRow("xe", 30, 729, 9.5, [["EMA(20) 1.779", "#22229a"]])}
        <line x1={18} x2={28} y1={725} y2={725} stroke="#22229a" strokeWidth={2} />
      </svg>
    </div>
  );
}
